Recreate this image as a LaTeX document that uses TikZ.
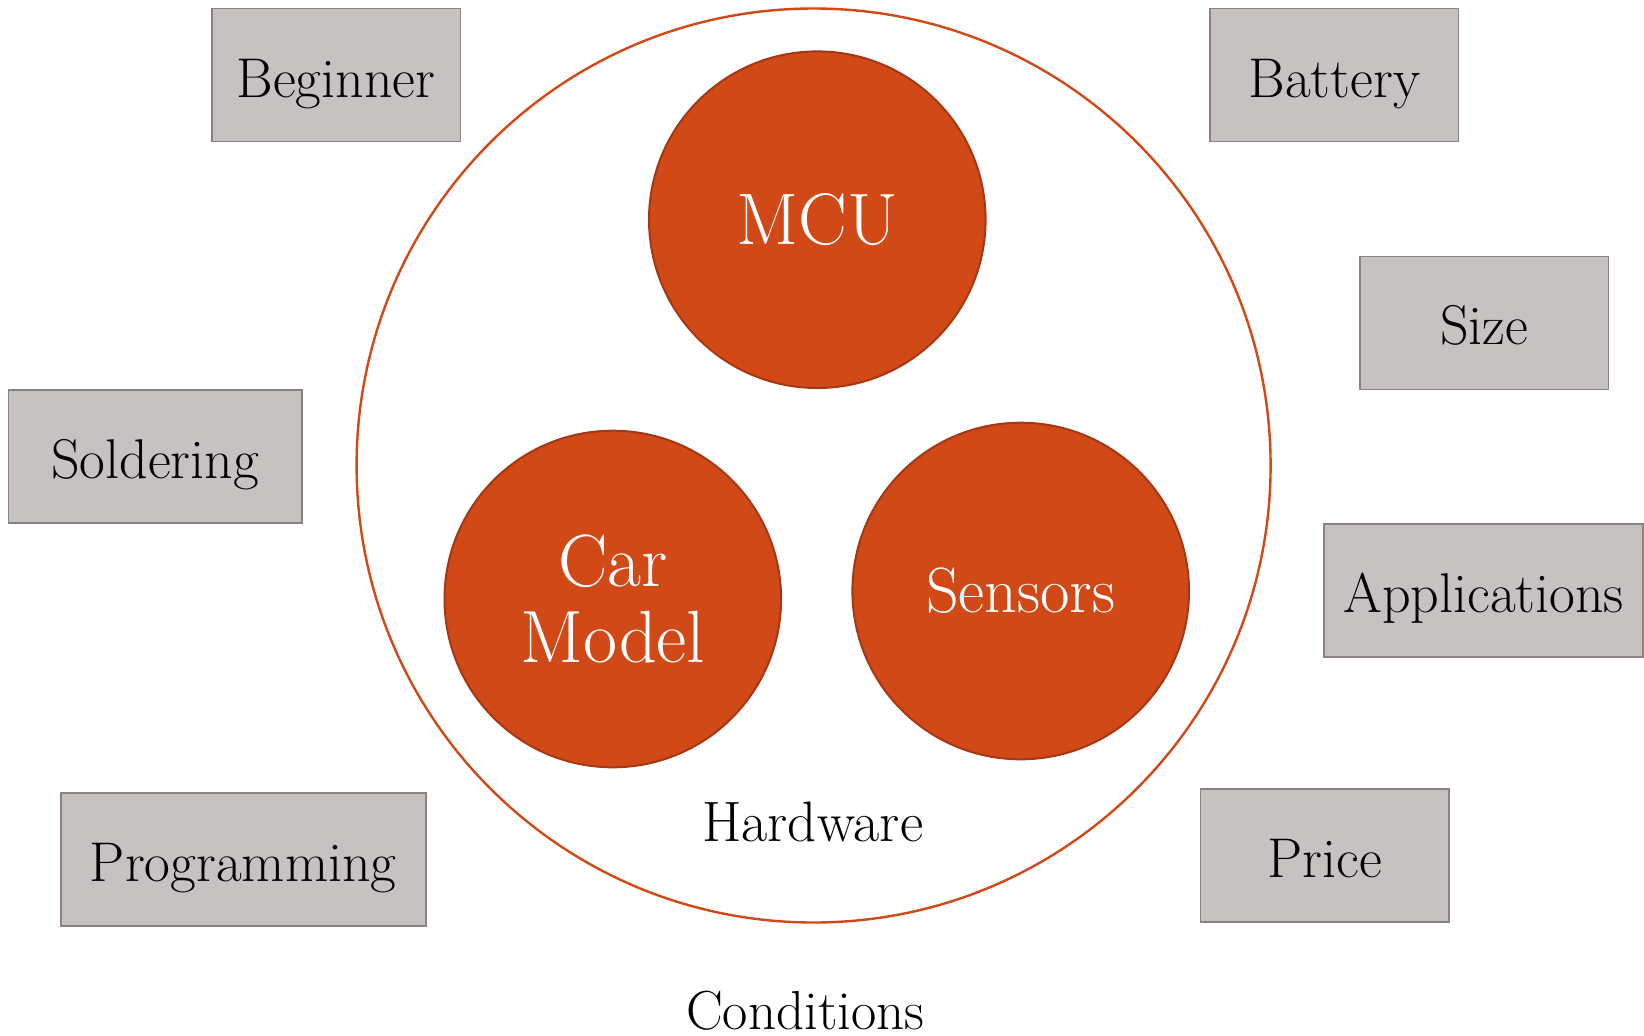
\documentclass[tikz,border=0pt]{standalone}
\usepackage{fontspec}
\setmainfont{Latin Modern Roman}
\usetikzlibrary{positioning}
\definecolor{rust}{RGB}{209,73,23}
\definecolor{rustdark}{RGB}{165,55,20}
\definecolor{boxgray}{RGB}{199,194,194}
\definecolor{boxline}{RGB}{140,130,130}
\begin{document}
\begin{tikzpicture}[x=0.5pt, y=-0.5pt,
		condbox/.style={draw=boxline, line width=0.8pt, fill=boxgray, minimum height=66.5pt, inner sep=0pt, text height=22pt, text depth=0pt, font=\fontsize{28}{32}\selectfont},
		part/.style={circle, draw=rustdark, line width=1pt, fill=rust, text=white, minimum size=168.3pt, inner sep=0pt, align=center},
		caption/.style={inner sep=0pt, font=\fontsize{28.5}{32}\selectfont}]
				\useasboundingbox (0,0) rectangle (1644,1035);

				\node[circle, draw=rust, line width=1.2pt, minimum size=457pt, inner sep=0pt] (hw) at (813.6,465.5) {};

				\node[part, font=\fontsize{36.5}{40}\selectfont] (mcu) at (817.3,219.7) {MCU};
				\node[part, font=\fontsize{37}{38}\selectfont] (car) at (612.8,599) {Car\\Model};
				\node[part, font=\fontsize{32}{36}\selectfont] (sensors) at (1020.7,591) {Sensors};
				\node[caption] (hwlabel) at (812.6,822) {Hardware};
				\node[caption, font=\fontsize{27.5}{32}\selectfont] (condlabel) at (805.3,1011) {Conditions};

				\node[condbox, minimum width=124.3pt] (beginner) at (336,75) {Beginner};
				\node[condbox, minimum width=146.8pt] (soldering) at (155.2,456.6) {Soldering};
				\node[condbox, minimum width=182.5pt] (programming) at (243.2,859.2) {Programming};
				\node[condbox, minimum width=124.3pt] (battery) at (1334.3,75) {Battery};
				\node[condbox, minimum width=124.3pt] (size) at (1484.2,322.9) {Size};
				\node[condbox, minimum width=159.4pt] (applications) at (1483.6,590.3) {Applications};
				\node[condbox, minimum width=124.3pt] (price) at (1324.8,855.6) {Price};
			\end{tikzpicture}
\end{document}
